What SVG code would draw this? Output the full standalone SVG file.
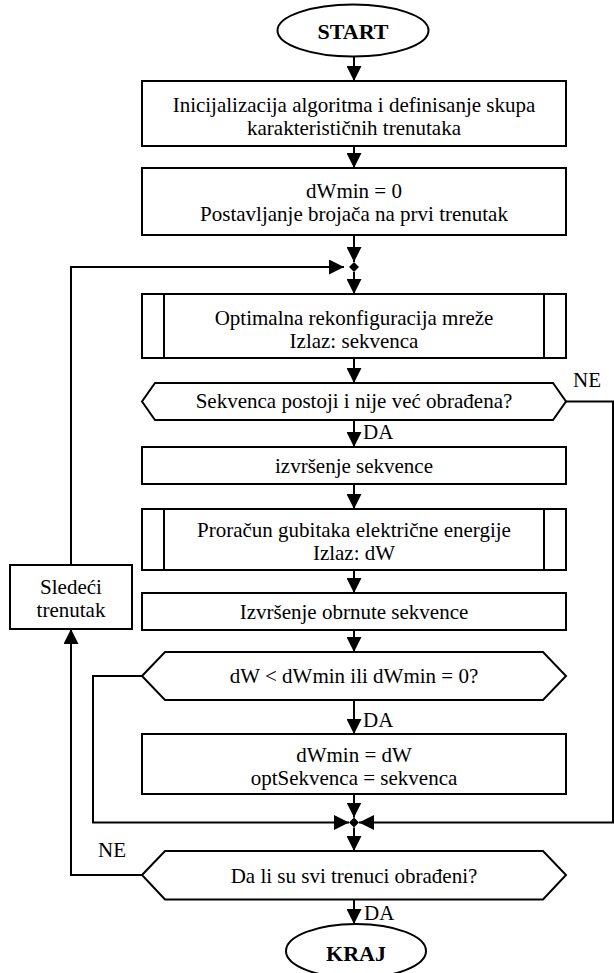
<svg xmlns="http://www.w3.org/2000/svg" width="614" height="973" viewBox="0 0 614 973">
<defs>
<style>
.s{fill:#fff;stroke:#000;stroke-width:2}
.c{fill:none;stroke:#000;stroke-width:2}
.t{font-family:"Liberation Serif","Times New Roman",serif;font-size:21px;fill:#000;text-anchor:middle}
.l{font-family:"Liberation Serif","Times New Roman",serif;font-size:21px;fill:#000}
.b{font-weight:bold;font-size:22px}
</style>
<marker id="ah" viewBox="0 0 15 15" markerWidth="15" markerHeight="15" refX="15" refY="7.5" orient="auto" markerUnits="userSpaceOnUse">
<path d="M0,0 L15,7.5 L0,15 z" fill="#000"/>
</marker>
</defs>
<g id="connectors">
<line class="c" x1="354" y1="57" x2="354" y2="81" marker-end="url(#ah)"/>
<line class="c" x1="354" y1="146" x2="354" y2="168" marker-end="url(#ah)"/>
<line class="c" x1="354" y1="235" x2="354" y2="262" marker-end="url(#ah)"/>
<path d="M349,267 L354,262 L359,267 L354,272 z" fill="#000"/>
<polyline class="c" points="71,565 71,267 344,267" marker-end="url(#ah)"/>
<line class="c" x1="354" y1="272" x2="354" y2="294" marker-end="url(#ah)"/>
<line class="c" x1="354" y1="358" x2="354" y2="383" marker-end="url(#ah)"/>
<line class="c" x1="354" y1="420" x2="354" y2="447" marker-end="url(#ah)"/>
<line class="c" x1="354" y1="484" x2="354" y2="509" marker-end="url(#ah)"/>
<line class="c" x1="354" y1="570" x2="354" y2="593" marker-end="url(#ah)"/>
<line class="c" x1="354" y1="630" x2="354" y2="652" marker-end="url(#ah)"/>
<line class="c" x1="354" y1="700" x2="354" y2="734" marker-end="url(#ah)"/>
<line class="c" x1="354" y1="794" x2="354" y2="817.5" marker-end="url(#ah)"/>
<path d="M349,822.5 L354,817.5 L359,822.5 L354,827.5 z" fill="#000"/>
<polyline class="c" points="566,401.5 613,401.5 613,822.5 359,822.5" marker-end="url(#ah)"/>
<polyline class="c" points="142,676 93,676 93,822.5 349,822.5" marker-end="url(#ah)"/>
<line class="c" x1="354" y1="827.5" x2="354" y2="851" marker-end="url(#ah)"/>
<polyline class="c" points="142,875 71,875 71,629" marker-end="url(#ah)"/>
<line class="c" x1="354" y1="899.5" x2="354" y2="924" marker-end="url(#ah)"/>
<text class="l" x="573" y="387">NE</text>
<text class="l" x="363" y="439">DA</text>
<text class="l" x="179" y="670">NE</text>
<text class="l" x="363" y="727">DA</text>
<text class="l" x="98" y="857">NE</text>
<text class="l" x="364" y="920">DA</text>
</g>
<g id="start">
<ellipse class="s" cx="353" cy="30.5" rx="75.5" ry="26"/>
<text class="t b" x="353" y="39">START</text>
</g>
<g id="init">
<rect class="s" x="142" y="81" width="424" height="65"/>
<text class="t" x="354" y="112">Inicijalizacija algoritma i definisanje skupa</text>
<text class="t" x="354" y="135">karakterističnih trenutaka</text>
</g>
<g id="setup">
<rect class="s" x="142" y="168" width="424" height="67"/>
<text class="t" x="354" y="198">dWmin = 0</text>
<text class="t" x="354" y="221">Postavljanje brojača na prvi trenutak</text>
</g>
<g id="reconf">
<rect class="s" x="142" y="294" width="424" height="64"/>
<line class="c" x1="164" y1="294" x2="164" y2="358"/>
<line class="c" x1="544" y1="294" x2="544" y2="358"/>
<text class="t" x="354" y="325">Optimalna rekonfiguracija mreže</text>
<text class="t" x="354" y="348">Izlaz: sekvenca</text>
</g>
<g id="dec1">
<polygon class="s" points="142,401.5 155,383 553,383 566,401.5 553,420 155,420"/>
<text class="t" x="354" y="408">Sekvenca postoji i nije već obrađena?</text>
</g>
<g id="exec">
<rect class="s" x="142" y="447" width="424" height="37"/>
<text class="t" x="354" y="473">izvršenje sekvence</text>
</g>
<g id="loss">
<rect class="s" x="142" y="509" width="424" height="61"/>
<line class="c" x1="164" y1="509" x2="164" y2="570"/>
<line class="c" x1="544" y1="509" x2="544" y2="570"/>
<text class="t" x="354" y="537">Proračun gubitaka električne energije</text>
<text class="t" x="354" y="560">Izlaz: dW</text>
</g>
<g id="reverse">
<rect class="s" x="142" y="593" width="424" height="37"/>
<text class="t" x="354" y="618.5">Izvršenje obrnute sekvence</text>
</g>
<g id="dec2">
<polygon class="s" points="142,676 165,652 543,652 566,676 543,700 165,700"/>
<text class="t" x="354" y="683">dW &lt; dWmin ili dWmin = 0?</text>
</g>
<g id="store">
<rect class="s" x="142" y="734" width="424" height="60"/>
<text class="t" x="354" y="762">dWmin = dW</text>
<text class="t" x="354" y="785">optSekvenca = sekvenca</text>
</g>
<g id="dec3">
<polygon class="s" points="142,875 165,851 543,851 566,875 543,899.5 165,899.5"/>
<text class="t" x="354" y="883">Da li su svi trenuci obrađeni?</text>
</g>
<g id="next">
<rect class="s" x="10" y="565" width="122" height="64"/>
<text class="t" x="71" y="594">Sledeći</text>
<text class="t" x="71" y="617">trenutak</text>
</g>
<g id="end">
<ellipse class="s" cx="356" cy="951" rx="70" ry="27"/>
<text class="t b" x="356" y="961">KRAJ</text>
</g>
</svg>
